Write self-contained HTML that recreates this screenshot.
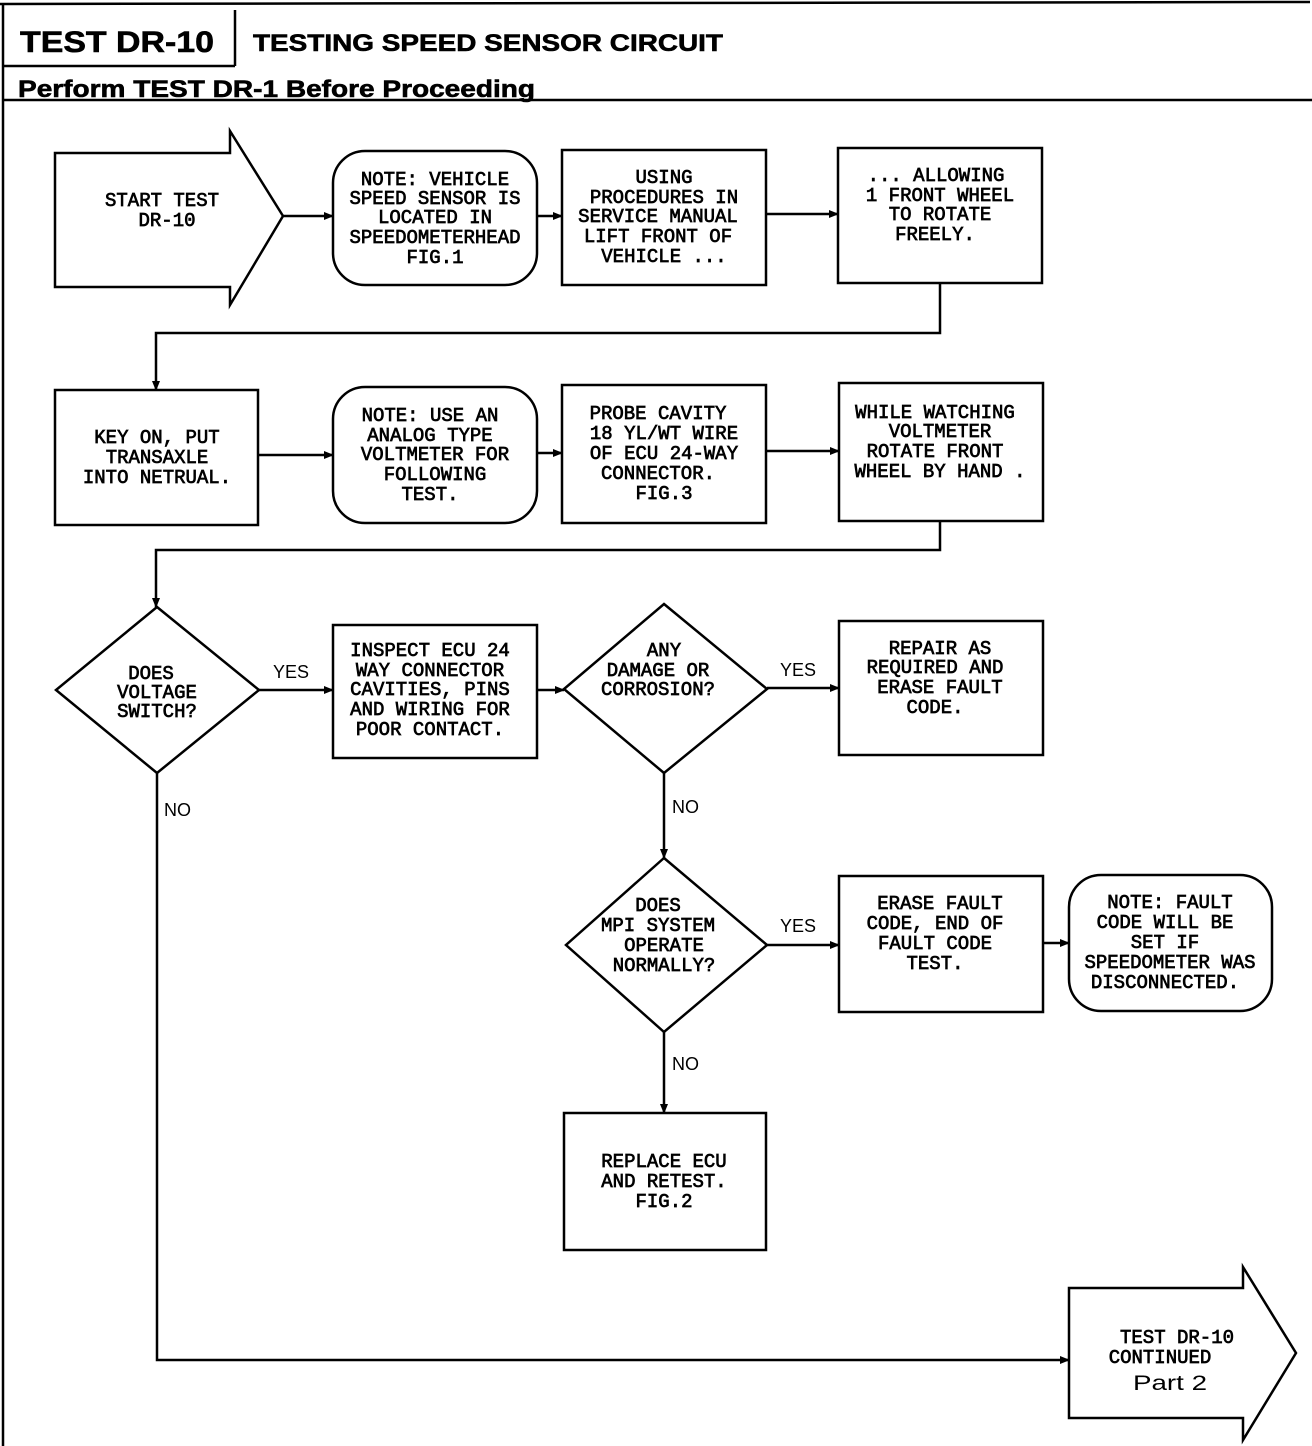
<!DOCTYPE html>
<html><head><meta charset="utf-8"><style>
html,body{margin:0;padding:0;background:#fff}
svg{display:block}
.t{font-family:"Liberation Mono",monospace;font-size:19px;text-anchor:middle;fill:#000;stroke:#000;stroke-width:0.7}
.l{font-family:"Liberation Sans",sans-serif;font-size:18px;fill:#000}
.h{font-family:"Liberation Sans",sans-serif;font-weight:bold;fill:#000;stroke:#000;stroke-width:0.6}
</style></head><body>
<svg width="1312" height="1446" viewBox="0 0 1312 1446" xmlns="http://www.w3.org/2000/svg">
<defs><marker id="a" markerWidth="10" markerHeight="8" refX="9" refY="4" orient="auto" markerUnits="userSpaceOnUse"><path d="M0,0 L10,4 L0,8 z" fill="#000"/></marker></defs>
<g stroke="#000" fill="none" stroke-width="2.5">
<line x1="0" y1="4" x2="1310" y2="2"/>
<line x1="3" y1="4" x2="3" y2="1446"/>
<line x1="235" y1="10" x2="235" y2="66"/>
<line x1="3" y1="66" x2="235" y2="66"/>
<line x1="3" y1="100" x2="1312" y2="100"/>
<polygon points="55,153 230,153 230,131 283,216 230,305 230,287 55,287"/>
<rect x="333" y="151" width="204" height="134" rx="32"/>
<rect x="562" y="150" width="204" height="135"/>
<rect x="838" y="148" width="204" height="135"/>
<line x1="283" y1="216" x2="333" y2="216" marker-end="url(#a)"/>
<line x1="537" y1="216" x2="562" y2="216" marker-end="url(#a)"/>
<line x1="766" y1="214" x2="838" y2="214" marker-end="url(#a)"/>
<polyline points="940,283 940,333 156,333 156,390" marker-end="url(#a)"/>
<rect x="55" y="390" width="203" height="135"/>
<rect x="333" y="387" width="204" height="136" rx="32"/>
<rect x="562" y="385" width="204" height="138"/>
<rect x="839" y="383" width="204" height="138"/>
<line x1="258" y1="455" x2="333" y2="455" marker-end="url(#a)"/>
<line x1="537" y1="453" x2="562" y2="453" marker-end="url(#a)"/>
<line x1="766" y1="451" x2="839" y2="451" marker-end="url(#a)"/>
<polyline points="940,521 940,550 156,550 156,607" marker-end="url(#a)"/>
<polygon points="157,607 259,690 157,773 56,690"/>
<line x1="259" y1="690" x2="333" y2="690" marker-end="url(#a)"/>
<rect x="333" y="625" width="204" height="133"/>
<line x1="537" y1="690" x2="564" y2="690" marker-end="url(#a)"/>
<polygon points="664,604 767,689 664,773 564,689"/>
<line x1="767" y1="688" x2="839" y2="688" marker-end="url(#a)"/>
<rect x="839" y="621" width="204" height="134"/>
<line x1="664" y1="773" x2="664" y2="858" marker-end="url(#a)"/>
<polygon points="664,858 767,945 664,1032 566,945"/>
<line x1="767" y1="945" x2="839" y2="945" marker-end="url(#a)"/>
<rect x="839" y="876" width="204" height="136"/>
<line x1="1043" y1="943" x2="1069" y2="943" marker-end="url(#a)"/>
<rect x="1069" y="875" width="203" height="136" rx="32"/>
<line x1="664" y1="1032" x2="664" y2="1113" marker-end="url(#a)"/>
<rect x="564" y="1113" width="202" height="137"/>
<polyline points="157,773 157,1360 1069,1360" marker-end="url(#a)"/>
<polygon points="1069,1288 1243,1288 1243,1267 1296,1353 1243,1440 1243,1418 1069,1418"/>
</g>
<text class="h" x="20" y="52" font-size="30" textLength="194" lengthAdjust="spacingAndGlyphs">TEST DR-10</text>
<text class="h" x="253" y="51" font-size="24" textLength="470" lengthAdjust="spacingAndGlyphs">TESTING SPEED SENSOR CIRCUIT</text>
<text class="h" x="18" y="97" font-size="24" textLength="517" lengthAdjust="spacingAndGlyphs">Perform TEST DR-1 Before Proceeding</text>
<g class="t">
<text x="162" y="206">START TEST</text><text x="167" y="226">DR-10</text>
<text x="435" y="185">NOTE: VEHICLE</text><text x="435" y="204">SPEED SENSOR IS</text><text x="435" y="223">LOCATED IN</text><text x="435" y="243">SPEEDOMETERHEAD</text><text x="435" y="263">FIG.1</text>
<text x="664" y="183">USING</text><text x="664" y="203">PROCEDURES IN</text><text x="658" y="222">SERVICE MANUAL</text><text x="658" y="242">LIFT FRONT OF</text><text x="664" y="262">VEHICLE ...</text>
<text x="936" y="181">... ALLOWING</text><text x="940" y="201">1 FRONT WHEEL</text><text x="940" y="220">TO ROTATE</text><text x="935" y="240">FREELY.</text>
<text x="157" y="443">KEY ON, PUT</text><text x="157" y="463">TRANSAXLE</text><text x="157" y="483">INTO NETRUAL.</text>
<text x="430" y="421">NOTE: USE AN</text><text x="430" y="441">ANALOG TYPE</text><text x="435" y="460">VOLTMETER FOR</text><text x="435" y="480">FOLLOWING</text><text x="430" y="500">TEST.</text>
<text x="658" y="419">PROBE CAVITY</text><text x="664" y="439">18 YL/WT WIRE</text><text x="664" y="459">OF ECU 24-WAY</text><text x="658" y="479">CONNECTOR.</text><text x="664" y="499">FIG.3</text>
<text x="935" y="418">WHILE WATCHING</text><text x="940" y="437">VOLTMETER</text><text x="935" y="457">ROTATE FRONT</text><text x="940" y="477">WHEEL BY HAND .</text>
<text x="151" y="679">DOES</text><text x="157" y="698">VOLTAGE</text><text x="157" y="717">SWITCH?</text>
<text x="430" y="656">INSPECT ECU 24</text><text x="430" y="676">WAY CONNECTOR</text><text x="430" y="695">CAVITIES, PINS</text><text x="430" y="715">AND WIRING FOR</text><text x="430" y="735">POOR CONTACT.</text>
<text x="664" y="656">ANY</text><text x="658" y="676">DAMAGE OR</text><text x="658" y="695">CORROSION?</text>
<text x="940" y="654">REPAIR AS</text><text x="935" y="673">REQUIRED AND</text><text x="940" y="693">ERASE FAULT</text><text x="935" y="713">CODE.</text>
<text x="658" y="911">DOES</text><text x="658" y="931">MPI SYSTEM</text><text x="664" y="951">OPERATE</text><text x="664" y="971">NORMALLY?</text>
<text x="940" y="909">ERASE FAULT</text><text x="935" y="929">CODE, END OF</text><text x="935" y="949">FAULT CODE</text><text x="935" y="969">TEST.</text>
<text x="1170" y="908">NOTE: FAULT</text><text x="1165" y="928">CODE WILL BE</text><text x="1165" y="948">SET IF</text><text x="1170" y="968">SPEEDOMETER WAS</text><text x="1165" y="988">DISCONNECTED.</text>
<text x="664" y="1167">REPLACE ECU</text><text x="664" y="1187">AND RETEST.</text><text x="664" y="1207">FIG.2</text>
<text x="1177" y="1343">TEST DR-10</text><text x="1160" y="1363">CONTINUED</text>
</g>
<text x="1133" y="1390" style="font-family:'Liberation Sans',sans-serif;font-size:21px" textLength="74" lengthAdjust="spacingAndGlyphs">Part 2</text>
<g class="l">
<text x="273" y="678">YES</text><text x="780" y="676">YES</text><text x="780" y="932">YES</text>
<text x="164" y="816">NO</text><text x="672" y="813">NO</text><text x="672" y="1070">NO</text>
</g>
</svg>
</body></html>
